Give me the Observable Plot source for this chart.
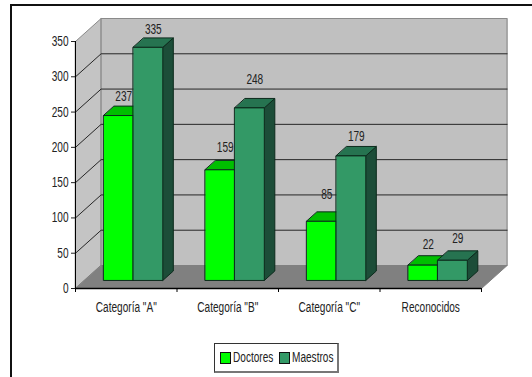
<!DOCTYPE html>
<html>
<head>
<meta charset="utf-8">
<script src="https://cdn.jsdelivr.net/npm/d3@7"></script>
<script src="https://cdn.jsdelivr.net/npm/@observablehq/plot@0.6"></script>
<style>
  html, body { margin: 0; padding: 0; background: #fff; overflow: hidden; }
  body { width: 532px; height: 377px; position: relative; font-family: "Liberation Sans", sans-serif; }
  #frame { position: absolute; left: 10px; top: 4px; width: 540px; height: 400px; border: 2px solid #111; box-sizing: border-box; }
  #chart { position: absolute; left: 0; top: 0; }
  #chart svg { display: block; background: transparent; }
  #legend { position: absolute; left: 214px; top: 343px; width: 125px; height: 30px; box-sizing: border-box;
            border: 1px solid #333; border-right: 2px solid #777; border-bottom: 2px solid #777; background: #fff;
            font-size: 14px; color: #222; }
  #legend span { position: absolute; top: 5px; line-height: 16px; white-space: nowrap; transform: scaleX(0.72); transform-origin: left center; }
  #legend i { position: absolute; top: 8px; width: 9px; height: 10px; border: 1px solid #111; box-sizing: content-box; }
</style>
</head>
<body>
<div id="frame"></div>
<div id="chart"></div>
<div id="legend"></div>
<script>
// Figures per category
const categories = ['Categoría "A"', 'Categoría "B"', 'Categoría "C"', "Reconocidos"];
const doctores = [237, 159, 85, 22];
const maestros = [335, 248, 179, 29];
const seriesNames = ["Doctores", "Maestros"];
const yTicks = [0, 50, 100, 150, 200, 250, 300, 350];

// Oblique projection: one unit of depth moves a point right (category units) and up (value units)
const PX_X = 101.5, PX_Y = 247 / 350;
const DEPTH_X = 25.6 / PX_X, DEPTH_Y = 23 / PX_Y;
const project = (u, v, d) => ({ x: u + d * DEPTH_X, y: v + d * DEPTH_Y });

// Builds a closed face; every face has a unique id so a single line mark can carry many
let faceId = 0;
const face = (corners) => { const id = faceId++; return corners.map(([u, v, d]) => ({ ...project(u, v, d), id })); };

// Column placement inside a category and inside the depth of the floor
const BAR_START = 0.19, BAR_W = 0.291, BAR_D0 = 0.35, BAR_D1 = 0.76, BAR_RISE = 0.986;

const columns = categories.flatMap((c, i) => [doctores[i], maestros[i]].map((value, s) => {
  const u0 = i + BAR_START + s * BAR_W, u1 = u0 + BAR_W, v = value * BAR_RISE;
  return {
    i, s, value,
    side: face([[u1, 0, BAR_D0], [u1, 0, BAR_D1], [u1, v, BAR_D1], [u1, v, BAR_D0]]),
    top: face([[u0, v, BAR_D0], [u1, v, BAR_D0], [u1, v, BAR_D1], [u0, v, BAR_D1]]),
    front: face([[u0, 0, BAR_D0], [u1, 0, BAR_D0], [u1, v, BAR_D0], [u0, v, BAR_D0]]),
    label: { ...project((u0 + u1) / 2, v, (BAR_D0 + BAR_D1) / 2), value }
  };
}));

const palette = [
  { front: "#00ff00", top: "#00bf00", side: "#008000" },
  { front: "#339966", top: "#267350", side: "#1c4d38" }
];

// Label lift above each column top, by series then category
const labelLift = [[14, 18, 22, 16], [13, 24, 15, 17]];

const N = categories.length, TOP = 350;
const leftWall = face([[0, 0, 0], [0, 0, 1], [0, TOP, 1], [0, TOP, 0]]);
const backWall = face([[0, 0, 1], [N, 0, 1], [N, TOP, 1], [0, TOP, 1]]);
const floor = face([[0, 0, 0], [N, 0, 0], [N, 0, 1], [0, 0, 1]]);
const gridLines = yTicks.filter(t => t > 0 && t < TOP).flatMap(t => face([[0, t, 0], [0, t, 1], [N, t, 1]]));

const poly = (rows, fill, stroke, strokeWidth = 1) =>
  Plot.line(rows, { x: "x", y: "y", z: "id", fill, stroke, strokeWidth, curve: "linear-closed" });

// Columns are painted left to right, so nearer faces overlap
const columnMarks = columns.flatMap(c => {
  const p = palette[c.s];
  return [poly(c.side, p.side, "#0c2a1c"), poly(c.top, p.top, "#0c2a1c"), poly(c.front, p.front, "#0c2a1c")];
});

const chart = Plot.plot({
  width: 532,
  height: 377,
  marginLeft: 75, marginRight: 51, marginTop: 41, marginBottom: 89,
  style: { background: "transparent", fontFamily: '"Liberation Sans", sans-serif' },
  x: { type: "linear", domain: [0, N] },
  y: { type: "linear", domain: [0, TOP] },
  marks: [
    poly(leftWall, "#c4c4c4", "#8a8a8a"),
    poly(backWall, "#c0c0c0", "#8a8a8a", 1.2),
    poly(floor, "#808080", "#808080"),
    Plot.line(gridLines, { x: "x", y: "y", z: "id", stroke: "#262626", strokeWidth: 1 }),
    ...columnMarks,
    Plot.axisY({ ticks: yTicks, tickSize: 4, tickPadding: 3, fontSize: 14, label: null, color: "#222", tickFormat: d => d }),
    Plot.axisX({ ticks: d3.range(N + 1), tickSize: 4, tickFormat: () => "", label: null, color: "#000" }),
    Plot.ruleX([0], { y1: 0, y2: TOP, stroke: "#000", strokeWidth: 1 }),
    Plot.ruleY([0], { stroke: "#000", strokeWidth: 1.4 }),
    Plot.text(categories, { x: (d, i) => i + 0.5, y: 0, text: d => d, dy: 19, fontSize: 14, fill: "#222" }),
    ...columns.map(c => Plot.text([c.label], { x: "x", y: "y", text: "value", dy: -labelLift[c.s][c.i], fontSize: 14, fill: "#222" }))
  ]
});
document.getElementById("chart").appendChild(chart);

// The chart's type is a squeezed sans: narrow every label to 72% of its natural width
chart.querySelectorAll("text").forEach(t => {
  const w = t.getComputedTextLength();
  if (w > 0) {
    t.setAttribute("lengthAdjust", "spacingAndGlyphs");
    t.setAttribute("textLength", w * 0.72);
  }
});

// Series key below the plot area
const legend = document.getElementById("legend");
const keyLeft = [5, 64];
seriesNames.forEach((name, s) => {
  const swatch = document.createElement("i");
  swatch.style.left = keyLeft[s] + "px";
  swatch.style.background = palette[s].front;
  const text = document.createElement("span");
  text.style.left = keyLeft[s] + 13 + "px";
  text.textContent = name;
  legend.append(swatch, text);
});
</script>
</body>
</html>
